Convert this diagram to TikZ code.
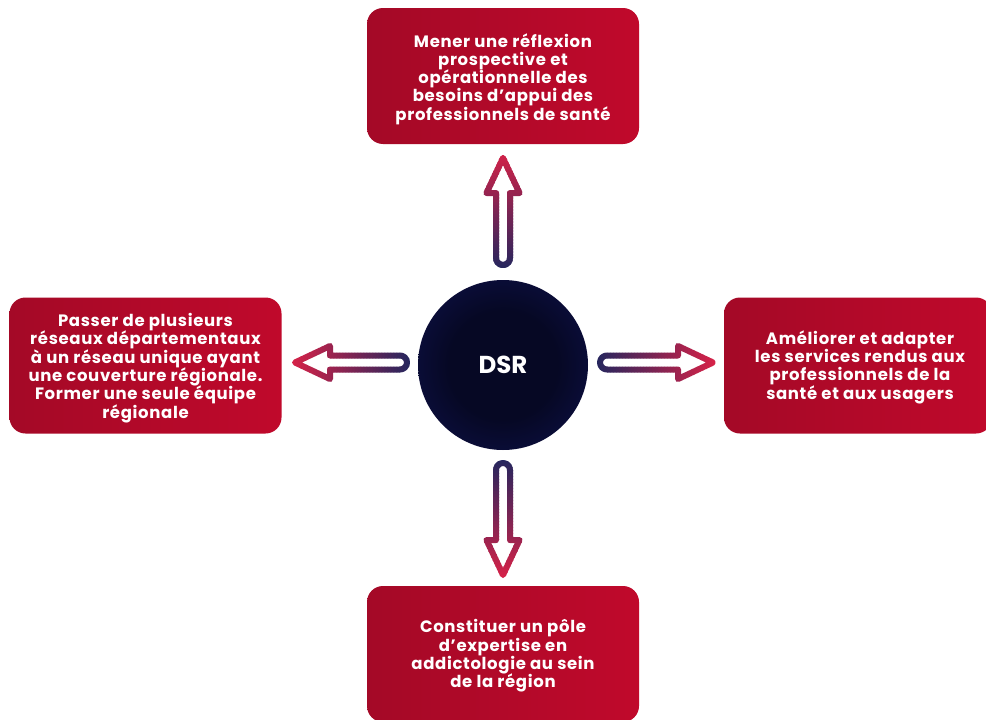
\documentclass[tikz,border=0pt]{standalone}
\usepackage{fontspec}
\setmainfont{Poppins}
\newfontfamily\boxfont{Poppins}[LetterSpace=4.0]
\definecolor{boxL}{RGB}{150,8,36}
\definecolor{boxR}{RGB}{206,10,46}
\definecolor{arrN}{RGB}{36,38,94}
\definecolor{arrC}{RGB}{212,34,72}
\definecolor{dsrIn}{RGB}{6,8,36}
\definecolor{dsrOut}{RGB}{20,24,104}
\pgfdeclarehorizontalshading{boxshade}{100bp}{color(0bp)=(boxL); color(100bp)=(boxR)}
\pgfdeclareradialshading{dsrshade}{\pgfpoint{0bp}{0bp}}{color(0bp)=(dsrIn); color(16bp)=(dsrIn); color(50bp)=(dsrOut)}
\tikzset{
  redbox/.style={shade, shading=boxshade, rounded corners=16pt, minimum width=272pt,
    minimum height=136pt, inner sep=0pt},
  boxtext/.style={inner sep=0pt, text=white, align=center,
    font=\boxfont\bfseries\fontsize{16.5}{18.3}\selectfont},
  hub/.style={circle, shade, shading=dsrshade, minimum size=170pt, inner sep=0pt,
    text=white, font=\bfseries\fontsize{24.5}{28}\selectfont},
  arrline/.style={line width=6pt, line join=round}
}
\newcommand\hollowarr[3]{%
  \begin{scope}[shift={#1}, rotate=#2]
    \foreach \i in {0,...,39}{
      \pgfmathsetmacro\pc{100*\i/39}
      \begin{scope}
        \clip (-12+\i*3,-26) rectangle (-12+\i*3+3.4,26);
        \draw[arrline, draw=arrC!\pc!arrN] (0,7) arc[start angle=90,end angle=270,radius=7]
          -- ({#3-35},-7) -- ({#3-35},-16.5) -- (#3,0) -- ({#3-35},16.5) -- ({#3-35},7) -- cycle;
      \end{scope}
    }
  \end{scope}}
\begin{document}
\begin{tikzpicture}[x=1pt,y=-1pt]
\useasboundingbox (0,0) rectangle (986,720);
\fill[white] (0,0) rectangle (986,720);
\node[redbox] (top) at (503,76) {};
\node[redbox] (left) at (145.5,365.5) {};
\node[redbox, minimum width=268pt] (right) at (858,365.5) {};
\node[redbox] (bottom) at (503,654) {};
\node[boxtext] (ttop) at ([yshift=-3pt]top.center) {Mener une réflexion\\prospective et\\opérationnelle des\\besoins d’appui des\\professionnels de santé};
\node[boxtext] (tleft) at ([yshift=-2.5pt]left.center) {Passer de plusieurs\\réseaux départementaux\\à un réseau unique ayant\\une couverture régionale.\\Former une seule équipe\\régionale};
\node[boxtext] (tright) at ([xshift=2pt,yshift=-1.5pt]right.center) {Améliorer et adapter\\les services rendus aux\\professionnels de la\\santé et aux usagers};
\node[boxtext] (tbottom) at ([yshift=-2pt]bottom.center) {Constituer un pôle\\d’expertise en\\addictologie au sein\\de la région};
\node[hub] (dsr) at (503,365) {DSR};
\coordinate (tu) at (503,258);
\coordinate (td) at (503,470);
\coordinate (tl) at (400,362.5);
\coordinate (tr) at (607,362.5);
\hollowarr{(tu)}{90}{100}
\hollowarr{(td)}{-90}{105}
\hollowarr{(tl)}{180}{105}
\hollowarr{(tr)}{0}{106}
\end{tikzpicture}
\end{document}
